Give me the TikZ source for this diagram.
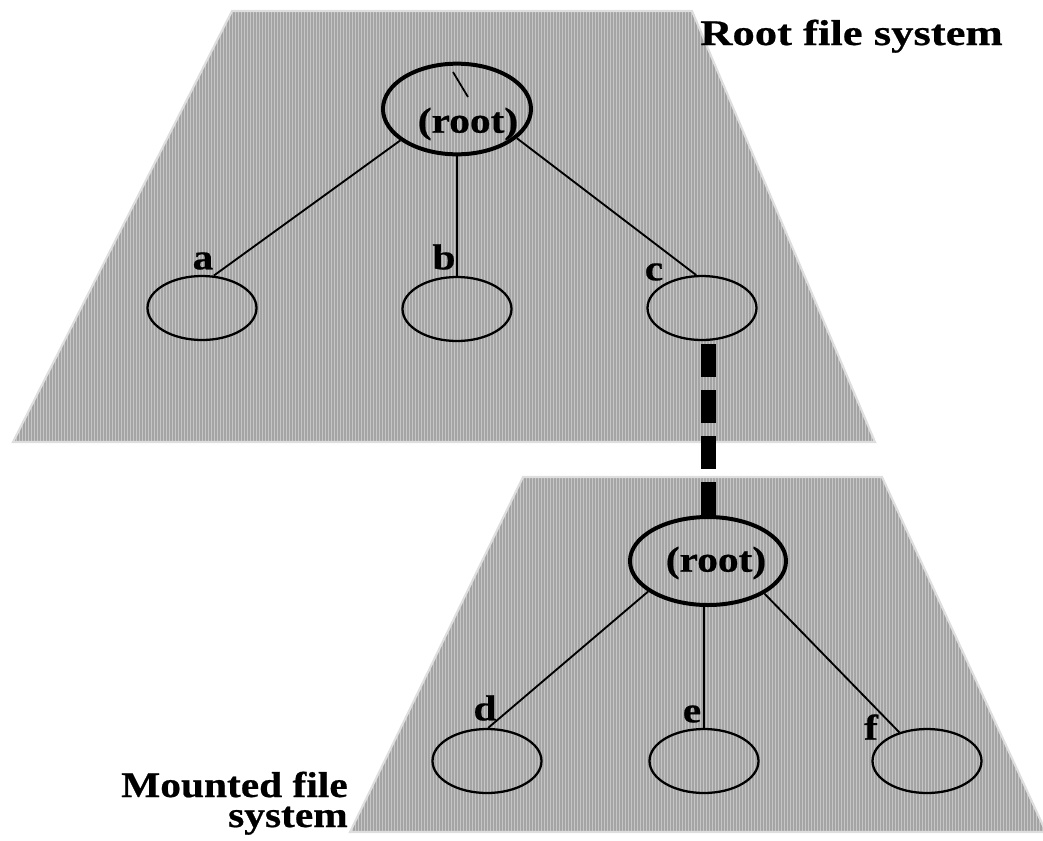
\documentclass[tikz,border=0pt]{standalone}
\usepackage{fontspec}
\setmainfont{Liberation Serif}[FakeStretch=1.15,BoldFeatures={FakeBold=0.6}]
\newfontfamily\widefont{Liberation Serif}[FakeStretch=1.24,BoldFeatures={FakeBold=0.6}]
\usetikzlibrary{shapes.geometric}
\definecolor{fsbase}{HTML}{C6C6C6}
\definecolor{fsline}{HTML}{A4A4A4}
\definecolor{fsedge}{HTML}{DEDEDE}
\begin{document}
\begin{tikzpicture}[x=0.75pt,y=-0.75pt,
  fsfill/.style={fill=fsbase},
  fsstripe/.style={draw=fsline,line width=0.8pt},
  fsborder/.style={draw=fsedge,line width=1.6pt,line join=miter},
  rootnode/.style={ellipse,draw,line width=3pt,inner sep=0pt},
  dirnode/.style={ellipse,draw,line width=1.7pt,inner sep=0pt,minimum width=81.75pt,minimum height=48pt},
  lbl/.style={inner sep=0pt,font=\fontsize{27pt}{22.5pt}\selectfont\bfseries},
  edge/.style={line width=1.4pt},
  mount/.style={line width=11.25pt,dash pattern=on 24.75pt off 9.75pt}]
\useasboundingbox (0,0) rectangle (1043,840);
% file system areas
\path[fsfill] (232,11) -- (692,11) -- (875,442) -- (13,442) -- cycle;
\begin{scope}
  \clip (232,11) -- (692,11) -- (875,442) -- (13,442) -- cycle;
  \foreach \x in {12,15,...,876} \draw[fsstripe] (\x,8) -- (\x,446);
\end{scope}
\path[fsborder] (232,11) -- (692,11) -- (875,442) -- (13,442) -- cycle;
\path[fsfill] (523,477) -- (882,477) -- (1046,832) -- (350,832) -- cycle;
\begin{scope}
  \clip (523,477) -- (882,477) -- (1046,832) -- (350,832) -- cycle;
  \foreach \x in {348,351,...,1047} \draw[fsstripe] (\x,474) -- (\x,836);
\end{scope}
\path[fsborder] (523,477) -- (882,477) -- (1046,832) -- (350,832) -- cycle;
% root file system
\node[rootnode,minimum width=111pt,minimum height=68pt] (ra) at (457,109) {};
\node[lbl] (ratext) at (468,124) {(root)};
\draw[line width=1.3pt] (453,72) -- (468,97);
\node[dirnode] (na) at (202,308) {};
\node[dirnode] (nb) at (457,309) {};
\node[dirnode] (nc) at (702,308) {};
\node[lbl] (la) at (203,261) {a};
\node[lbl] (lb) at (444,257) {b};
\node[lbl] (lc) at (654,272) {c};
\draw[edge] (ra.209) -- (na.70);
\draw[edge] (ra.south) -- (nb.north);
\draw[edge] (ra.-26) -- (nc.100);
% mounted file system
\node[rootnode,minimum width=117pt,minimum height=66pt] (lr) at (708,561) {};
\node[lbl] (lrtext) at (716,563) {(root)};
\node[dirnode] (nd) at (487,761) {};
\node[dirnode] (ne) at (704,761) {};
\node[dirnode] (nf) at (927,761) {};
\node[lbl] (ld) at (485,708) {d};
\node[lbl] (le) at (692,714) {e};
\node[lbl] (lf) at (871,727) {f};
\draw[edge] (lr.207) -- (nd.88);
\draw[edge] (ne.north) -- (ne.north |- lr.south);
\draw[edge] (lr.-30) -- (nf.134);
% mount connector
\coordinate (mtop) at ([yshift=-2.25pt]nc.south -| lr.north);
\draw[mount] (mtop) -- (lr.north);
% titles
\node[lbl,anchor=base west,font=\fontsize{27pt}{22.5pt}\widefont\bfseries] (troot) at (700,45) {Root file system};
\node[lbl,anchor=base east] (tmount1) at (348,797) {Mounted file};
\node[lbl,anchor=base east] (tmount2) at (348,827) {system};
\end{tikzpicture}
\end{document}
